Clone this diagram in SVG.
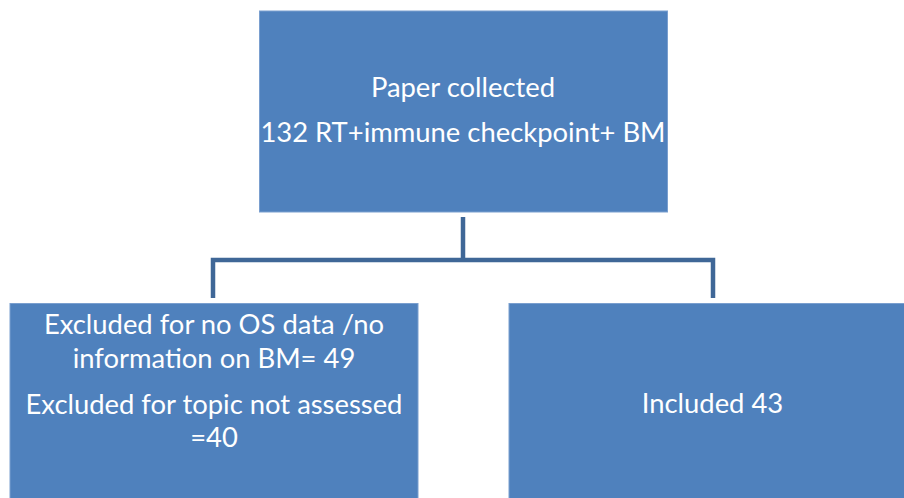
<svg xmlns="http://www.w3.org/2000/svg" width="904" height="498" viewBox="0 0 904 498">
<style>
.box{fill:#4F81BD;stroke:#7a9fcf;stroke-width:1}
.t{font-family:Lato,"Open Sans","Liberation Sans",sans-serif;fill:#ffffff;text-anchor:middle;font-size:27.4px}
.c{fill:none;stroke:#3F6797;stroke-width:4.5}
</style>
<rect width="904" height="498" fill="#ffffff"/>
<g id="connectors">
<path class="c" d="M463 217 V258"/>
<path class="c" d="M213 298 V260 H713 V298"/>
</g>
<g id="top">
<rect class="box" x="259.5" y="11" width="408" height="201"/>
<text class="t" x="463" y="97">Paper collected</text>
<text class="t" x="463" y="142">132 RT+immune checkpoint+ BM</text>
</g>
<g id="excluded">
<rect class="box" x="10" y="303.5" width="408" height="200"/>
<text class="t" x="214" y="334">Excluded for no OS data /no</text>
<text class="t" x="214" y="368">information on BM= 49</text>
<text class="t" x="214" y="414">Excluded for topic not assessed</text>
<text class="t" x="214" y="447">=40</text>
</g>
<g id="included">
<rect class="box" x="509" y="303.5" width="400" height="200"/>
<text class="t" x="712.5" y="413">Included 43</text>
</g>
</svg>
